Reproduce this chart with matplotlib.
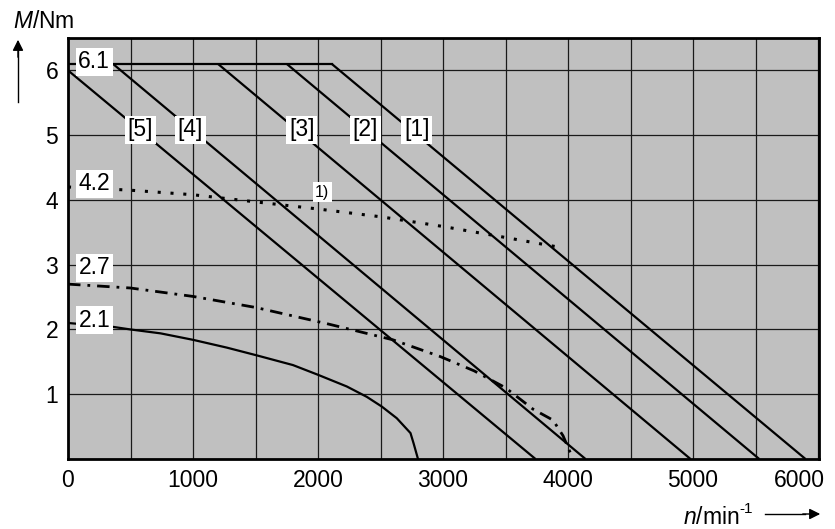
import matplotlib.pyplot as plt
import matplotlib.transforms as mtransforms
import numpy as np

plt.rcParams['font.family'] = ['Liberation Sans', 'DejaVu Sans']
plt.rcParams['mathtext.fontset'] = 'custom'
plt.rcParams['mathtext.rm'] = 'Liberation Sans'
plt.rcParams['mathtext.it'] = 'Liberation Sans:italic'

# Kennlinien (Drehzahl in 1/min, Moment in Nm)
n_max = [0, 2110]
m_max = [6.1, 6.1]

# Geraden [1]..[5]: Start (n, M) und Ende (n, M)
lines_n = {'[5]': [0, 3740], '[4]': [360, 4140], '[3]': [1200, 4980],
           '[2]': [1750, 5530], '[1]': [2110, 5900]}
lines_m = {'[5]': [6.0, 0], '[4]': [6.1, 0], '[3]': [6.1, 0],
           '[2]': [6.1, 0], '[1]': [6.1, 0]}
label_n = {'[5]': 580, '[4]': 980, '[3]': 1870, '[2]': 2380, '[1]': 2790}

curve_42_n = [0, 500, 1000, 1500, 2000, 2500, 3000, 3500, 3900]
curve_42_m = [4.2, 4.15, 4.08, 3.97, 3.86, 3.74, 3.59, 3.42, 3.28]

curve_27_n = [0, 500, 1000, 1500, 2070, 2600, 2980, 3250, 3500, 3720, 3880, 3960, 4040]
curve_27_m = [2.7, 2.64, 2.51, 2.34, 2.09, 1.84, 1.58, 1.36, 1.1, 0.77, 0.6, 0.36, 0.0]

curve_21_n = [0, 360, 500, 740, 1000, 1270, 1510, 1800, 2000, 2230, 2390, 2510, 2630, 2740, 2765, 2800]
curve_21_m = [2.1, 2.04, 2.0, 1.94, 1.84, 1.72, 1.6, 1.45, 1.3, 1.12, 0.96, 0.81, 0.63, 0.4, 0.24, 0.0]

value_labels = ['6.1', '4.2', '2.7', '2.1']
value_label_m = [6.13, 4.25, 2.95, 2.14]

x_ticks = [0, 1000, 2000, 3000, 4000, 5000, 6000]
y_ticks = [1, 2, 3, 4, 5, 6]

fs = 16.5
fig = plt.figure(figsize=(8.35, 5.29), dpi=100)
ax = fig.add_axes([68/835, 1-459/529, 751/835, 421/529])
ax.set_facecolor('#c0c0c0')
ax.set_xlim(0, 6008)
ax.set_ylim(0, 6.5)

for x in np.arange(500, 6001, 500):
    ax.axvline(x, color='#1a1a1a', lw=0.9, zorder=1)
for y in y_ticks:
    ax.axhline(y, color='#1a1a1a', lw=0.9, zorder=1)

lw = 1.6
box = dict(facecolor='white', edgecolor='none', pad=1.8)
ax.plot(n_max, m_max, color='black', lw=lw, zorder=3)
for k in lines_n:
    ax.plot(lines_n[k], lines_m[k], color='black', lw=lw, zorder=3,
            solid_capstyle='butt')
    ax.text(label_n[k], 5.08, k, fontsize=fs, ha='center', va='center',
            zorder=5, bbox=box)

ax.plot(curve_42_n, curve_42_m, color='black', lw=2.2, ls=(0, (1, 3.2)), zorder=3)
ax.plot(curve_27_n, curve_27_m, color='black', lw=2.0, ls=(0, (4.5, 2.5, 1, 2.5)), zorder=3)
ax.plot(curve_21_n, curve_21_m, color='black', lw=lw, zorder=3)

for t, m in zip(value_labels, value_label_m):
    ax.text(210, m, t, fontsize=fs, ha='center', va='center', zorder=5, bbox=box)

ax.text(2035, 4.12, '1)', fontsize=11.5, ha='center', va='center', zorder=5, bbox=box)

ax.set_xticks(x_ticks)
ax.set_yticks(y_ticks)
ax.set_xticklabels([str(v) for v in x_ticks], fontsize=fs)
ax.set_yticklabels([str(v) for v in y_ticks], fontsize=fs)
ax.tick_params(length=0, pad=7)
# letzte Beschriftung nach links ruecken, damit sie ins Bild passt
last = ax.get_xticklabels()[-1]
last.set_ha('right')
last.set_transform(last.get_transform() + mtransforms.ScaledTranslation(7/100, 0, fig.dpi_scale_trans))
for s in ax.spines.values():
    s.set_linewidth(2)

fig.text(13/835, 1-22/529, r'$M$/Nm', fontsize=fs, ha='left', va='center')
fig.add_artist(plt.Line2D([18/835, 18/835], [1-102/529, 1-50/529], color='black', lw=1))
ax.annotate('', xy=(18/835, 1-37/529), xytext=(18/835, 1-60/529),
            xycoords='figure fraction',
            arrowprops=dict(arrowstyle='-|>', color='black', lw=1, mutation_scale=16))

xl = fig.text(683/835, 1-517/529, r'$n$/min', fontsize=fs, ha='left', va='center')
ax.annotate('-1', xy=(1.0, 0.55), xycoords=xl, fontsize=11, ha='left', va='bottom')
fig.add_artist(plt.Line2D([765/835, 805/835], [1-514/529, 1-514/529], color='black', lw=1))
ax.annotate('', xy=(823/835, 1-514/529), xytext=(800/835, 1-514/529),
            xycoords='figure fraction',
            arrowprops=dict(arrowstyle='-|>', color='black', lw=1, mutation_scale=16))

fig.savefig('out.png', dpi=100)
